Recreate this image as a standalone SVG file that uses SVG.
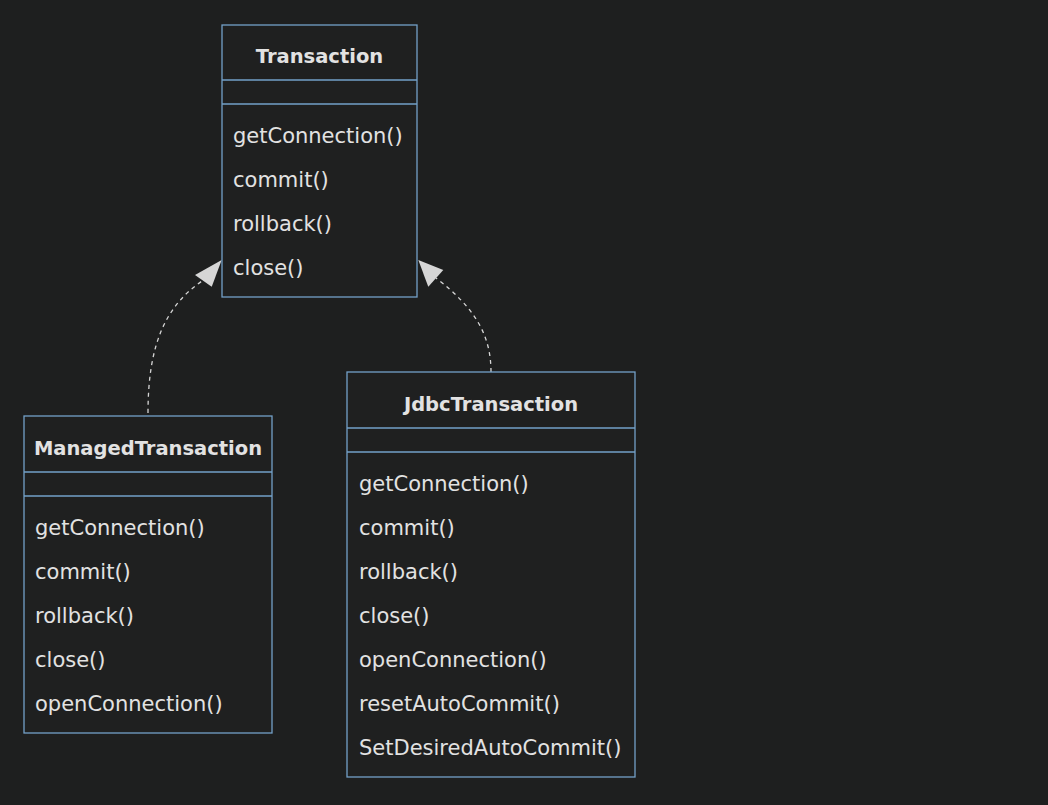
<svg xmlns="http://www.w3.org/2000/svg" width="1048" height="805" viewBox="0 0 1048 805">
<style>
.box{fill:#1f2020;stroke:#73a0c8;stroke-width:1.3}
.div{stroke:#73a0c8;stroke-width:1.3}
.title{font-family:"DejaVu Sans",sans-serif;font-weight:bold;font-size:19.5px;fill:#e2e2e2;text-anchor:middle;dominant-baseline:central}
.m{font-family:"DejaVu Sans",sans-serif;font-size:21px;fill:#e2e2e2;dominant-baseline:central}
.edge{fill:none;stroke:#d6d6d6;stroke-width:1.3;stroke-dasharray:4 4}
.head{fill:#d6d6d6}
</style>
<rect width="1048" height="805" fill="#1e1f1f"/>
<g id="connectors">
<path class="edge" d="M148,413 C148,345 165,305 205,279"/>
<polygon class="head" points="221.7,260 195,275 211.7,286.7"/>
<path class="edge" d="M491,372 C491,335 475,308 436,278"/>
<polygon class="head" points="418.3,260 443.3,270 428.3,286.7"/>
</g>
<g id="Transaction">
<rect class="box" x="222" y="25" width="195" height="272"/>
<line class="div" x1="222" y1="80" x2="417" y2="80"/>
<line class="div" x1="222" y1="104" x2="417" y2="104"/>
<text class="title" x="319.5" y="56">Transaction</text>
<text class="m" x="233" y="136">getConnection()</text>
<text class="m" x="233" y="180">commit()</text>
<text class="m" x="233" y="224">rollback()</text>
<text class="m" x="233" y="268">close()</text>
</g>
<g id="ManagedTransaction">
<rect class="box" x="24" y="416" width="248" height="317"/>
<line class="div" x1="24" y1="472" x2="272" y2="472"/>
<line class="div" x1="24" y1="496" x2="272" y2="496"/>
<text class="title" x="148" y="448">ManagedTransaction</text>
<text class="m" x="35" y="528">getConnection()</text>
<text class="m" x="35" y="572">commit()</text>
<text class="m" x="35" y="616">rollback()</text>
<text class="m" x="35" y="660">close()</text>
<text class="m" x="35" y="704">openConnection()</text>
</g>
<g id="JdbcTransaction">
<rect class="box" x="347" y="372" width="288" height="405"/>
<line class="div" x1="347" y1="428" x2="635" y2="428"/>
<line class="div" x1="347" y1="452" x2="635" y2="452"/>
<text class="title" x="491" y="404">JdbcTransaction</text>
<text class="m" x="359" y="484">getConnection()</text>
<text class="m" x="359" y="528">commit()</text>
<text class="m" x="359" y="572">rollback()</text>
<text class="m" x="359" y="616">close()</text>
<text class="m" x="359" y="660">openConnection()</text>
<text class="m" x="359" y="704">resetAutoCommit()</text>
<text class="m" x="359" y="748">SetDesiredAutoCommit()</text>
</g>
</svg>
